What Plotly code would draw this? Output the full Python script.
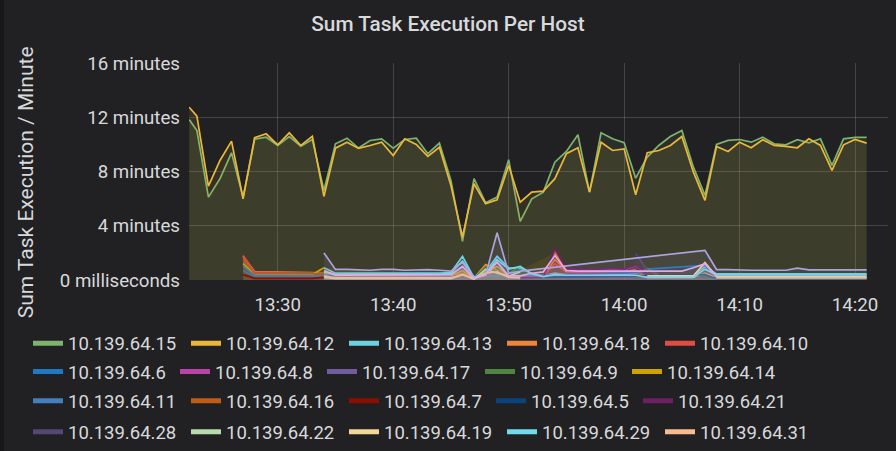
import plotly.graph_objects as go

N = None

# time axis: first (partial) sample, then one sample per minute 13:23 .. 14:21
t_first = "2019-01-01 13:22:20"
minute_labels = ["%02d:%02d" % divmod(m, 60) for m in range(13 * 60 + 23, 14 * 60 + 22)]
times = [t_first] + ["2019-01-01 " + lab + ":00" for lab in minute_labels]

# values in minutes
host_15 = [11.83, 11.02, 6.11, 7.47, 9.38, 6.10, 10.38, 10.53, 9.92, 10.58,
           9.87, 10.36, 6.60, 10.04, 10.46, 9.73, 10.29, 10.41, 9.72, 10.36,
           10.46, 9.31, 10.09, 7.34, 2.85, 7.47, 5.70, 6.11, 8.87, 4.32,
           5.99, 6.48, 8.69, 9.48, 10.71, 6.48, 10.85, 10.41, 10.12, 7.51,
           9.06, 9.92, 10.58, 11.02, 8.32, 6.24, 9.99, 10.29, 10.36, 10.16,
           10.53, 10.04, 9.97, 10.34, 10.12, 10.41, 8.45, 10.41, 10.51, 10.51]
host_12 = [12.74, 12.08, 6.92, 8.81, 10.24, 5.99, 10.49, 10.78, 9.97, 10.85,
           9.92, 10.60, 6.16, 9.72, 10.16, 9.70, 9.92, 10.16, 9.18, 10.41,
           9.99, 9.11, 9.79, 6.97, 3.17, 7.10, 5.63, 5.92, 8.45, 5.74,
           6.48, 6.55, 7.47, 9.31, 9.75, 6.48, 10.16, 9.55, 9.67, 6.29,
           9.38, 9.55, 9.92, 10.58, 7.95, 5.87, 9.85, 9.48, 10.16, 9.75,
           10.34, 9.92, 9.85, 9.75, 10.41, 9.92, 8.08, 9.97, 10.36, 10.09]
host_13 = [N, N, N, N, N, N, N, N, N, N,
           N, N, 0.90, 0.50, 0.50, 0.48, 0.50, 0.50, 0.48, 0.50,
           0.50, 0.48, 0.50, 0.55, 1.74, 0.15, 0.60, 1.74, 0.90, 0.86,
           0.50, 0.30, 0.50, 0.40, 0.40, 0.40, 0.40, 0.40, 0.40, 0.50,
           0.25, 0.25, 0.25, 0.25, 0.25, 1.00, 0.45, 0.45, 0.45, 0.45,
           0.45, 0.45, 0.45, 0.45, 0.45, 0.45, 0.45, 0.45, 0.45, 0.45]
host_18 = [N, N, N, N, N, 1.75, 0.62, 0.60, 0.60, 0.55,
           0.60, 0.55, 0.50, 0.22, 0.22, 0.22, 0.22, 0.22, 0.22, 0.22,
           0.22, 0.22, 0.22, 0.25, 0.50, 0.15, 1.13, 0.70, 0.30, 0.20,
           0.25, 0.30, 1.50, 0.70, 0.60, 0.60, 0.60, 0.60, 0.60, 0.70,
           0.20, 0.20, 0.20, 0.20, 0.20, 0.50, 0.20, 0.20, 0.20, 0.20,
           0.20, 0.20, 0.20, 0.20, 0.20, 0.20, 0.20, 0.20, 0.20, 0.20]
host_10 = [N, N, N, N, N, 1.80, 0.55, 0.55, 0.52, 0.55,
           0.50, 0.52, 0.55, N, N, N, N, N, N, N,
           N, N, N, N, N, N, N, N, N, 0.30,
           0.20, 0.30, 1.20, 0.60, 0.55, 0.50, 0.55, 0.60, 0.55, 0.80,
           N, N, N, N, N, N, N, N, N, N,
           N, N, N, N, N, N, N, N, N, N]
host_6 = [N, N, N, N, N, 0.70, 0.25, 0.25, 0.25, 0.25,
          0.25, 0.25, 0.35, N, N, N, N, N, N, N,
          N, N, N, N, N, N, N, N, N, 0.30,
          N, N, N, N, N, N, N, N, N, 0.55,
          0.80, 0.85, 0.90, 0.95, 1.00, 1.08, 0.15, N, N, N,
          N, N, N, N, N, N, N, N, N, N]
host_8 = [N, N, N, N, N, 1.50, 0.55, 0.55, 0.55, 0.55,
          0.55, 0.55, 0.50, N, N, N, N, N, N, N,
          N, N, N, N, N, N, N, N, N, 0.30,
          0.20, 0.20, 2.20, 0.80, 0.75, 0.70, 0.75, 0.80, 0.75, 1.05,
          0.50, N, N, N, N, N, N, N, N, N,
          N, N, N, N, N, N, N, N, N, N]
host_17 = [N, N, N, N, N, N, N, N, N, N,
           N, N, N, N, N, N, N, N, N, N,
           N, N, N, 0.30, 0.90, 0.10, 0.50, 1.50, 0.30, 0.25,
           N, N, N, N, N, N, N, N, N, N,
           N, N, N, N, N, N, N, N, N, N,
           N, N, N, N, N, N, N, N, N, N]
host_9 = [N, N, N, N, N, 1.30, 0.45, 0.45, 0.45, 0.45,
          0.45, 0.45, 0.50, N, N, N, N, N, N, N,
          N, N, N, N, N, 0.10, 1.00, 0.60, 0.50, 1.00,
          0.40, N, N, N, N, N, N, N, N, 0.30,
          0.84, 0.30, N, N, N, N, N, N, N, N,
          N, N, N, N, N, N, N, N, N, N]
host_14 = [N, N, N, N, N, 1.20, 0.40, 0.40, 0.40, 0.40,
           0.40, 0.40, 0.90, N, N, N, N, N, N, N,
           N, N, N, 0.30, 0.70, 0.10, 0.60, 1.00, 0.30, N,
           N, N, 2.00, 0.60, N, N, N, N, N, N,
           N, N, N, N, N, N, N, N, N, N,
           N, N, N, N, N, N, N, N, N, N]
host_11 = [N, N, N, N, N, 1.00, 0.35, 0.35, 0.35, 0.35,
           0.35, 0.35, 0.30, N, N, N, N, N, N, N,
           N, N, N, N, N, N, N, N, N, N,
           N, N, N, N, N, N, N, N, N, N,
           N, N, N, N, N, N, N, N, N, N,
           N, N, N, N, N, N, N, N, N, N]
host_16 = [N, N, N, N, N, 1.65, 0.50, 0.50, 0.50, 0.50,
           0.50, 0.50, 0.45, N, N, N, N, N, N, N,
           N, N, N, N, N, N, N, N, N, N,
           N, N, N, N, N, N, N, N, N, N,
           N, N, N, N, N, N, N, N, N, N,
           N, N, N, N, N, N, N, N, N, N]
host_7 = [N, N, N, N, N, 0.40, 0.12, 0.12, 0.12, 0.12,
          0.12, 0.12, 0.20, N, N, N, N, N, N, N,
          N, N, N, N, N, N, N, N, N, N,
          N, N, N, N, N, N, N, N, N, N,
          N, N, N, N, N, N, N, N, N, N,
          N, N, N, N, N, N, N, N, N, N]
host_5 = [N, N, N, N, N, N, N, N, N, N,
          N, N, N, N, N, N, N, N, N, N,
          N, N, N, N, N, N, N, N, N, 0.15,
          N, N, N, N, N, N, N, N, N, N,
          N, N, N, N, N, 0.40, 0.08, 0.08, 0.08, 0.08,
          0.08, 0.08, 0.08, 0.08, 0.08, 0.08, 0.08, 0.08, 0.08, 0.08]
host_21 = [N, N, N, N, N, N, N, N, N, N,
           N, N, N, N, N, N, N, N, N, N,
           N, N, N, N, N, N, N, N, N, 0.10,
           0.15, 0.20, 2.31, 0.84, 0.80, 0.78, 0.80, 0.85, 0.80, 1.10,
           0.50, N, N, N, N, N, N, N, N, N,
           N, N, N, N, N, N, N, N, N, N]
host_28 = [N, N, N, N, N, N, N, N, N, N,
           N, N, N, N, N, N, N, N, N, N,
           N, N, N, N, N, N, N, N, N, N,
           N, N, N, N, N, N, N, N, N, 1.95,
           0.72, 0.45, N, N, N, N, N, N, N, N,
           N, N, N, N, N, N, N, N, N, N]
host_22 = [N, N, N, N, N, N, N, N, N, N,
           N, N, 0.20, 0.10, 0.10, 0.10, 0.10, 0.10, 0.10, 0.10,
           0.10, 0.10, 0.10, 0.10, 0.40, 0.05, 0.80, 0.50, 0.30, 0.60,
           N, N, N, N, N, N, N, N, N, N,
           N, N, N, N, N, N, N, N, N, N,
           N, N, N, N, N, N, N, N, N, N]
host_19 = [N, N, N, N, N, N, N, N, N, N,
           N, N, N, N, N, N, N, N, N, N,
           N, N, N, N, N, N, N, N, N, N,
           N, N, N, N, N, N, N, N, N, N,
           0.30, 0.30, 0.30, 0.30, 0.30, 1.28, 0.25, 0.25, 0.25, 0.25,
           0.25, 0.25, 0.25, 0.25, 0.25, 0.25, 0.25, 0.25, 0.25, 0.25]
host_29 = [N, N, N, N, N, N, N, N, N, N,
           N, N, 0.60, 0.42, 0.42, 0.42, 0.42, 0.42, 0.42, 0.42,
           0.42, 0.42, 0.42, 0.50, 1.40, 0.20, 0.50, 1.50, 0.80, 1.00,
           0.45, 0.25, 0.40, 0.35, 0.35, 0.35, 0.35, 0.35, 0.35, 0.35,
           0.20, 0.20, 0.20, 0.20, 0.20, 0.80, 0.38, 0.38, 0.38, 0.38,
           0.38, 0.38, 0.38, 0.38, 0.38, 0.38, 0.38, 0.38, 0.38, 0.38]
host_31 = [N, N, N, N, N, N, N, N, N, N,
           N, N, 0.30, 0.15, 0.15, 0.15, 0.15, 0.15, 0.15, 0.15,
           0.15, 0.15, 0.15, 0.15, 0.40, 0.10, 0.50, 0.60, 0.20, 0.15,
           N, N, N, N, N, N, N, N, N, N,
           N, N, N, N, N, N, 0.15, 0.15, 0.15, 0.15,
           0.15, 0.15, 0.15, 0.15, 0.15, 0.15, 0.15, 0.15, 0.15, 0.15]
# further hosts drawn on the chart but not listed in the visible legend
extra_a = [N, N, N, N, N, N, N, N, N, N,
           N, N, 2.00, 0.78, 0.78, 0.76, 0.72, 0.78, 0.78, 0.72,
           0.76, 0.76, 0.72, 0.65, 1.30, 0.15, 0.35, 3.49, 0.50, 0.66,
           N, N, N, N, N, N, N, N, N, N,
           N, N, N, N, N, 2.19, 0.77, 0.77, 0.72, 0.72,
           0.72, 0.72, 0.72, 0.88, 0.75, 0.75, 0.75, 0.75, 0.75, 0.75]
extra_b = [N, N, N, N, N, N, N, N, N, N,
           N, N, 0.70, 0.36, 0.36, 0.36, 0.36, 0.36, 0.36, 0.36,
           0.36, 0.36, 0.36, 0.40, 1.00, 0.10, 0.40, 1.30, 0.30, 0.30,
           0.50, 0.60, 1.80, 0.70, 0.65, 0.65, 0.65, 0.65, 0.65, 0.65,
           0.65, 0.65, 0.65, 0.65, 0.90, 1.20, 0.30, N, N, N,
           N, N, N, N, N, N, N, N, N, N]

legend_rows = [
    [("10.139.64.15", host_15, "#7EB26D"), ("10.139.64.12", host_12, "#EAB839"),
     ("10.139.64.13", host_13, "#6ED0E0"), ("10.139.64.18", host_18, "#EF843C"),
     ("10.139.64.10", host_10, "#E24D42")],
    [("10.139.64.6", host_6, "#1F78C1"), ("10.139.64.8", host_8, "#BA43A9"),
     ("10.139.64.17", host_17, "#705DA0"), ("10.139.64.9", host_9, "#508642"),
     ("10.139.64.14", host_14, "#CCA300")],
    [("10.139.64.11", host_11, "#447EBC"), ("10.139.64.16", host_16, "#C15C17"),
     ("10.139.64.7", host_7, "#890F02"), ("10.139.64.5", host_5, "#0A437C"),
     ("10.139.64.21", host_21, "#6D1F62")],
    [("10.139.64.28", host_28, "#584477"), ("10.139.64.22", host_22, "#B7DBAB"),
     ("10.139.64.19", host_19, "#F4D598"), ("10.139.64.29", host_29, "#70DBED"),
     ("10.139.64.31", host_31, "#F9BA8F")],
]
hidden = [("extra_a", extra_a, "#AEA2E0"), ("extra_b", extra_b, "#E5A8E2")]
connect = {"10.139.64.6", "10.139.64.5", "extra_a"}

y_ticks = [0, 4, 8, 12, 16]
y_tick_text = ["0 milliseconds", "4 minutes", "8 minutes", "12 minutes", "16 minutes"]
x_ticks = ["2019-01-01 13:30", "2019-01-01 13:40", "2019-01-01 13:50",
           "2019-01-01 14:00", "2019-01-01 14:10", "2019-01-01 14:20"]


def rgba(hexc, a):
    h = hexc.lstrip("#")
    return "rgba(%d,%d,%d,%s)" % (int(h[0:2], 16), int(h[2:4], 16), int(h[4:6], 16), a)


BG = "#212124"
TXT = "#d8d9da"
FONT = "Roboto"
FS_TICK = 18.7
FS_LEG = 18.5

fig = go.Figure()
all_series = [s for row in legend_rows for s in row] + hidden
for name, vals, col in all_series:
    fig.add_trace(go.Scatter(
        x=times, y=vals, mode="lines", name=name,
        line=dict(color=col, width=1.7),
        fill="tozeroy", fillcolor=rgba(col, 0.1),
        connectgaps=name in connect, showlegend=False, hoverinfo="skip"))

# legend entries, one legend per row
W, H = 896, 451
L, R, T, B = 189, 8, 62.7, 171.3
pw, ph = W - L - R, H - T - B
row_y = [343.3, 371.7, 401.0, 432.0]
legend_keys = ["legend", "legend2", "legend3", "legend4"]
for ri, row in enumerate(legend_rows):
    for name, vals, col in row:
        fig.add_trace(go.Scatter(
            x=[None], y=[None], mode="lines", name=name,
            line=dict(color=col, width=5), showlegend=True,
            legend=legend_keys[ri], hoverinfo="skip",
            legendwidth=113 if len(name) == 12 else 102))

legend_x = (28 - L) / pw
lay = {}
for ri, key in enumerate(legend_keys):
    lay[key] = dict(orientation="h", x=legend_x, xanchor="left",
                    y=(T + ph - row_y[ri]) / ph, yanchor="middle",
                    bgcolor="rgba(0,0,0,0)", borderwidth=0,
                    font=dict(family=FONT, size=FS_LEG, color=TXT),
                    itemwidth=30)
fig.update_layout(**lay)

fig.update_layout(
    width=W, height=H,
    margin=dict(l=L, r=R, t=T, b=B, pad=0, autoexpand=False),
    paper_bgcolor=BG, plot_bgcolor=BG,
    font=dict(family=FONT, size=FS_TICK, color=TXT),
    title=dict(text="Sum Task Execution Per Host", x=0.5, xanchor="center",
               xref="container", y=1 - 23.5 / H, yanchor="middle", yref="container",
               font=dict(family=FONT, size=20.8, color=TXT, weight=500)),
    xaxis=dict(type="date", range=["2019-01-01 13:22:19", "2019-01-01 14:22:51"],
               tickvals=x_ticks, tickformat="%H:%M", showgrid=True,
               gridcolor="rgba(255,255,255,0.16)", gridwidth=1, zeroline=False,
               showline=False, ticks="", ticklabelstandoff=11, automargin=False,
               tickfont=dict(family=FONT, size=FS_TICK, color=TXT)),
    yaxis=dict(range=[0, 16], tickvals=y_ticks, ticktext=y_tick_text,
               showgrid=True, gridcolor="rgba(255,255,255,0.16)", gridwidth=1,
               zeroline=False, showline=False, ticks="", ticklabelstandoff=8,
               automargin=False,
               tickfont=dict(family=FONT, size=FS_TICK, color=TXT)),
    annotations=[dict(text="Sum Task Execution / Minute", textangle=-90,
                      xref="paper", yref="paper", x=(26 - L) / pw, y=(T + ph - 182) / ph,
                      xanchor="center", yanchor="middle", showarrow=False,
                      font=dict(family=FONT, size=21, color=TXT))],
    shapes=[dict(type="rect", xref="paper", yref="paper",
                 x0=-L / pw, x1=(4 - L) / pw, y0=-B / ph, y1=(ph + T) / ph,
                 fillcolor="#161719", line=dict(width=0), layer="below")],
    hovermode=False,
)

fig.write_html("out.html", config={"displayModeBar": False})
